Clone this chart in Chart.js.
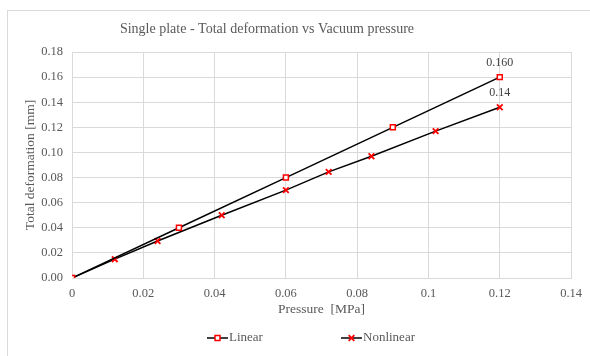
<!DOCTYPE html>
<html>
<head>
<meta charset="utf-8">
<script src="https://cdn.jsdelivr.net/npm/chart.js@4/dist/chart.umd.min.js"></script>
<style>
    html, body { margin: 0; padding: 0; background: #ffffff; overflow: hidden; }
    .wrap { position: relative; width: 590px; height: 356px; }
    .frame {
        position: absolute; left: 7px; top: 10px;
        width: 640px; height: 420px;
        border: 1px solid #d9d9d9;
    }
    #chart { position: absolute; left: 0; top: 0; }
</style>
</head>
<body>
<div class="wrap">
    <div class="frame"></div>
    <canvas id="chart" width="590" height="356"></canvas>
</div>
<script>
// pressure [MPa] / deformation [mm]
const linearPressure = [0, 0.03, 0.06, 0.09, 0.12];
const linearDeform = [0, 0.04, 0.08, 0.12, 0.16];
const nonlinPressure = [0, 0.012, 0.024, 0.042, 0.06, 0.072, 0.084, 0.102, 0.12];
const nonlinDeform = [0, 0.015, 0.0295, 0.050, 0.070, 0.0845, 0.097, 0.117, 0.136];
const xTicks = [0, 0.02, 0.04, 0.06, 0.08, 0.1, 0.12, 0.14];
const yTicks = [0, 0.02, 0.04, 0.06, 0.08, 0.10, 0.12, 0.14, 0.16, 0.18];
const seriesNames = ['Linear', 'Nonlinear'];
const chartTitle = 'Single plate - Total deformation vs Vacuum pressure';

const serif = '"Liberation Serif", "Times New Roman", serif';
const grey = '#595959';

function pairs(xs, ys) {
    return xs.map((x, i) => ({ x: x, y: ys[i] }));
}

// title sits a bit left of the canvas centre (the outer frame runs past the right edge)
const titleText = {
    id: 'titleText',
    afterDraw(chart) {
        const ctx = chart.ctx;
        ctx.save();
        ctx.font = '14px ' + serif;
        ctx.fillStyle = grey;
        ctx.textAlign = 'center';
        ctx.textBaseline = 'middle';
        ctx.fillText(chartTitle, 267, 29);
        ctx.restore();
    }
};

// value label over the last point of each line
const endLabels = {
    id: 'endLabels',
    afterDatasetsDraw(chart) {
        const ctx = chart.ctx;
        ctx.save();
        ctx.font = '12px ' + serif;
        ctx.fillStyle = '#404040';
        ctx.textAlign = 'center';
        ctx.textBaseline = 'bottom';
        chart.data.datasets.forEach((ds, i) => {
            const pts = chart.getDatasetMeta(i).data;
            const last = pts[pts.length - 1];
            const v = ds.data[ds.data.length - 1].y;
            ctx.fillText(v.toFixed(ds.labelDigits), last.x, last.y - 8);
        });
        ctx.restore();
    }
};

// legend with line + marker swatches, under the axis title
const lineLegend = {
    id: 'lineLegend',
    afterDraw(chart) {
        const ctx = chart.ctx;
        const area = chart.chartArea;
        const y = 338;
        const starts = [area.left + 135, area.left + 269];
        ctx.save();
        ctx.font = '13px ' + serif;
        ctx.textBaseline = 'middle';
        chart.data.datasets.forEach((ds, i) => {
            const x0 = starts[i];
            ctx.strokeStyle = ds.borderColor;
            ctx.lineWidth = 1.5;
            ctx.beginPath();
            ctx.moveTo(x0, y);
            ctx.lineTo(x0 + 21, y);
            ctx.stroke();
            ctx.strokeStyle = ds.pointBorderColor;
            ctx.fillStyle = ds.pointBackgroundColor;
            ctx.lineWidth = ds.pointBorderWidth;
            Chart.helpers.drawPoint(ctx, {
                pointStyle: ds.pointStyle,
                radius: ds.pointRadius,
                borderWidth: ds.pointBorderWidth
            }, x0 + 10.5, y);
            ctx.fillStyle = grey;
            ctx.fillText(ds.label, x0 + 22, y);
        });
        ctx.restore();
    }
};

new Chart(document.getElementById('chart').getContext('2d'), {
    type: 'scatter',
    data: {
        datasets: [{
            label: seriesNames[0],
            data: pairs(linearPressure, linearDeform),
            showLine: true,
            borderColor: '#000000',
            borderWidth: 1.5,
            pointStyle: 'rect',
            pointRadius: 3.5,
            pointBorderColor: '#ff0000',
            pointBackgroundColor: '#ffffff',
            pointBorderWidth: 1.5,
            labelDigits: 3
        }, {
            label: seriesNames[1],
            data: pairs(nonlinPressure, nonlinDeform),
            showLine: true,
            borderColor: '#000000',
            borderWidth: 1.5,
            pointStyle: 'crossRot',
            pointRadius: 4,
            pointBorderColor: '#ff0000',
            pointBackgroundColor: '#ff0000',
            pointBorderWidth: 1.8,
            labelDigits: 2
        }]
    },
    options: {
        responsive: false,
        animation: false,
        layout: { padding: { left: 8, right: 17, top: 52, bottom: 28 } },
        plugins: {
            legend: { display: false },
            tooltip: { enabled: false },
            title: { display: false }
        },
        scales: {
            x: {
                type: 'linear',
                min: 0,
                max: 0.14,
                afterBuildTicks: s => { s.ticks = xTicks.map(v => ({ value: v })); },
                afterFit: s => { s.height = 50; },
                grid: { color: '#d9d9d9', drawTicks: false },
                border: { color: '#d9d9d9' },
                ticks: {
                    color: grey,
                    padding: 8,
                    font: { family: serif, size: 12.5 },
                    callback: v => String(+v.toFixed(2))
                },
                title: {
                    display: true,
                    text: 'Pressure  [MPa]',
                    color: grey,
                    font: { family: serif, size: 13.5 },
                    padding: { top: 0, bottom: 10 }
                }
            },
            y: {
                type: 'linear',
                min: 0,
                max: 0.18,
                afterBuildTicks: s => { s.ticks = yTicks.map(v => ({ value: v })); },
                afterFit: s => { s.width = 64; },
                grid: { color: '#d9d9d9', drawTicks: false },
                border: { color: '#d9d9d9' },
                ticks: {
                    color: grey,
                    padding: 9,
                    font: { family: serif, size: 12.5 },
                    callback: v => v.toFixed(2)
                },
                title: {
                    display: true,
                    text: 'Total deformation [mm]',
                    color: grey,
                    font: { family: serif, size: 13.5 },
                    padding: { top: 14, bottom: 0 }
                }
            }
        }
    },
    plugins: [titleText, endLabels, lineLegend]
});
</script>
</body>
</html>
